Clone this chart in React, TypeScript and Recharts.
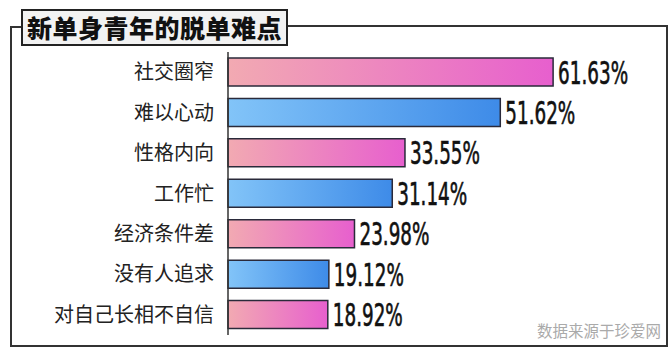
import { BarChart, Bar, XAxis, YAxis, Cell } from 'recharts';

const categories = ['社交圈窄', '难以心动', '性格内向', '工作忙', '经济条件差', '没有人追求', '对自己长相不自信'];
const values = [61.63, 51.62, 33.55, 31.14, 23.98, 19.12, 18.92];
const title = '新单身青年的脱单难点';
const source = '数据来源于珍爱网';

const data = categories.map((name, i) => ({ name, value: values[i] }));

const CJK = '"Noto Sans CJK SC", "Noto Sans", sans-serif';

// condensed value label, squeezed to the width of the original digits
const ValueLabel = (props: any) => {
    const { x, y, width, height, value } = props;
    const text = `${Number(value).toFixed(2)}%`;
    return (
        <text
            x={x + width + 5}
            y={y + height / 2 + 11.5}
            textLength={70}
            lengthAdjust="spacingAndGlyphs"
            fontFamily='"Liberation Sans Narrow", "DejaVu Sans Condensed", sans-serif'
            fontWeight="normal"
            fontSize={32}
            fill="#111"
            stroke="#111"
            strokeWidth={0.6}
        >
            {text}
        </text>
    );
};

export default function App() {
    return (
        <div style={{ position: 'fixed', left: 0, top: 0, width: 672, height: 352, background: '#fff', overflow: 'hidden' }}>
            {/* outer frame */}
            <svg width={672} height={352} style={{ position: 'absolute', left: 0, top: 0 }}>
                <polyline
                    points="22,27 11,27 11,346 667,346 667,26 287,26"
                    fill="none"
                    stroke="#333"
                    strokeWidth={2}
                />
                <rect x={22} y={10} width={265} height={35} fill="#f2f2f2" stroke="#222" strokeWidth={2} />
            </svg>
            <div
                style={{
                    position: 'absolute', left: 22, top: 10, width: 265, height: 35, lineHeight: '35px',
                    textAlign: 'center', fontFamily: CJK, fontWeight: 900, fontSize: 25, color: '#111', letterSpacing: 0.5,
                }}
            >
                {title}
            </div>

            <div style={{ position: 'absolute', left: 0, top: 0 }}>
                <BarChart
                    width={672}
                    height={352}
                    layout="vertical"
                    data={data}
                    margin={{ top: 52, right: 22, bottom: 17, left: 0 }}
                    barCategoryGap={0}
                >
                    <defs>
                        <linearGradient id="pinkGrad" x1="0" y1="0" x2="1" y2="0">
                            <stop offset="0%" stopColor="#f2aab2" />
                            <stop offset="100%" stopColor="#e75fce" />
                        </linearGradient>
                        <linearGradient id="blueGrad" x1="0" y1="0" x2="1" y2="0">
                            <stop offset="0%" stopColor="#82c4f8" />
                            <stop offset="100%" stopColor="#3e8be8" />
                        </linearGradient>
                    </defs>
                    <XAxis type="number" domain={[0, 80]} hide />
                    <YAxis
                        type="category"
                        dataKey="name"
                        width={228}
                        axisLine={{ stroke: '#333', strokeWidth: 1.5 }}
                        tickLine={false}
                        tickMargin={8}
                        tick={{ fill: '#222', fontSize: 20, fontFamily: CJK }}
                    />
                    <Bar
                        dataKey="value"
                        barSize={28}
                        stroke="#2a2a3a"
                        strokeWidth={1.5}
                        isAnimationActive={false}
                        label={ValueLabel}
                    >
                        {data.map((_, i) => (
                            <Cell key={i} fill={i % 2 === 0 ? 'url(#pinkGrad)' : 'url(#blueGrad)'} />
                        ))}
                    </Bar>
                </BarChart>
            </div>

            <div
                style={{
                    position: 'absolute', left: 537, top: 319, fontFamily: CJK, fontSize: 15.5, color: '#aaa',
                }}
            >
                {source}
            </div>
        </div>
    );
}
